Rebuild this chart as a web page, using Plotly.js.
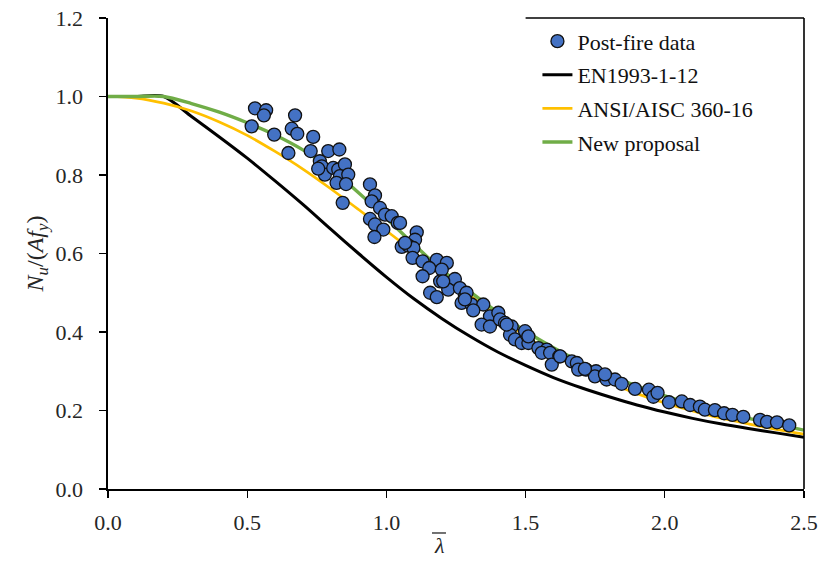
<!DOCTYPE html>
<html>
<head>
<meta charset="utf-8">
<script src="https://cdn.plot.ly/plotly-3.0.1.min.js"></script>
<style>html,body{margin:0;padding:0;background:#fff;}#chart{width:822px;height:562px;}</style>
</head>
<body>
<div id="chart"></div>
<script>
// Post-fire test data
const dataLambda = [0.528,0.568,0.560,0.516,0.597,0.672,0.660,0.680,0.648,0.737,0.728,0.791,0.831,0.761,0.768,0.779,0.809,0.827,0.851,0.833,0.863,0.821,0.855,0.843,0.755,
  0.941,0.959,0.947,0.977,0.941,0.995,1.019,1.041,0.959,0.989,0.957,1.109,1.103,1.055,1.079,1.097,1.094,1.130,1.181,1.217,1.154,1.199,1.130,1.193,1.246,1.222,1.264,1.282,1.157,1.181,1.288,1.270,1.306,1.348,1.312,1.372,1.402,1.342,1.372,1.408,1.426,1.450,1.444,1.462,1.486,1.504,1.510,1.498,1.546,1.576,1.558,1.588,1.621,1.594,1.666,1.684,1.689,1.717,1.753,1.749,1.791,1.821,1.845,1.893,1.943,1.959,1.974,2.015,2.061,2.091,2.126,2.144,2.180,2.213,2.243,2.282,2.342,2.367,2.403,2.447,
  1.049,1.067,1.204,1.282,1.432,1.510,1.624,1.785,1.713];
const dataRatio = [0.970,0.965,0.952,0.924,0.903,0.952,0.918,0.905,0.856,0.897,0.861,0.861,0.865,0.835,0.822,0.801,0.818,0.814,0.827,0.797,0.801,0.780,0.777,0.729,0.816,
  0.776,0.748,0.733,0.716,0.688,0.699,0.695,0.678,0.674,0.661,0.642,0.654,0.635,0.617,0.620,0.614,0.589,0.580,0.584,0.576,0.563,0.559,0.542,0.529,0.535,0.508,0.512,0.491,0.500,0.489,0.500,0.474,0.470,0.470,0.455,0.440,0.449,0.419,0.414,0.432,0.423,0.414,0.393,0.381,0.372,0.393,0.372,0.402,0.359,0.355,0.347,0.347,0.338,0.317,0.325,0.321,0.304,0.304,0.300,0.287,0.279,0.279,0.268,0.255,0.253,0.235,0.245,0.221,0.223,0.214,0.210,0.202,0.201,0.193,0.189,0.184,0.176,0.171,0.170,0.162,
  0.678,0.627,0.529,0.483,0.419,0.389,0.338,0.292,0.306];

// Design curves
const curveLambda = [0,0.1,0.2,0.3,0.4,0.5,0.6,0.7,0.8,0.9,1.0,1.1,1.2,1.3,1.4,1.5,1.6,1.7,1.8,1.9,2.0,2.1,2.2,2.3,2.4,2.5];
const enValues   = [1,1,1,0.949,0.897,0.843,0.785,0.725,0.662,0.600,0.540,0.484,0.434,0.389,0.349,0.315,0.284,0.258,0.235,0.214,0.196,0.180,0.166,0.154,0.143,0.132];
const aiscValues = [1,0.996,0.983,0.963,0.935,0.901,0.860,0.815,0.765,0.712,0.658,0.603,0.547,0.493,0.440,0.390,0.343,0.304,0.271,0.243,0.219,0.199,0.181,0.166,0.152,0.140];
const newValues  = [1,1,1,0.982,0.960,0.933,0.902,0.864,0.815,0.755,0.690,0.622,0.558,0.503,0.450,0.402,0.360,0.323,0.290,0.262,0.237,0.216,0.197,0.180,0.165,0.150];

const xTicks = [0,0.5,1.0,1.5,2.0,2.5];
const xTickText = ['0.0','0.5','1.0','1.5','2.0','2.5'];
const yTicks = [0,0.2,0.4,0.6,0.8,1.0,1.2];
const yTickText = ['0.0','0.2','0.4','0.6','0.8','1.0','1.2'];

const serif = 'Liberation Serif';

const traces = [
  {x: dataLambda, y: dataRatio, type:'scatter', mode:'markers', name:'Post-fire data',
   marker:{color:'#4472C4', size:13, line:{color:'#111', width:1.3}}, legendgroup:'a', legendrank:1},
  {x: curveLambda, y: enValues, type:'scatter', mode:'lines', name:'EN1993-1-12',
   line:{color:'#000000', width:3, shape:'spline', smoothing:0.8}, legendgroup:'b', legendrank:2},
  {x: curveLambda, y: aiscValues, type:'scatter', mode:'lines', name:'ANSI/AISC 360-16',
   line:{color:'#FFC000', width:2.7, shape:'spline', smoothing:0.8}, legendgroup:'c', legendrank:3},
  {x: curveLambda, y: newValues, type:'scatter', mode:'lines', name:'New proposal',
   line:{color:'#70AD47', width:3.4, shape:'spline', smoothing:0.8}, legendgroup:'d', legendrank:4}
];
// draw data on top of the curves
const ordered = [traces[1], traces[2], traces[3], traces[0]];

const layout = {
  width: 822, height: 562,
  margin: {l:108, r:18, t:18, b:73},
  paper_bgcolor:'#ffffff', plot_bgcolor:'#ffffff',
  font: {family: serif, size: 21, color:'#262626'},
  showlegend: true,
  legend: {x:0.617, y:0.995, xanchor:'left', yanchor:'top', bgcolor:'rgba(0,0,0,0)',
           font:{family:serif, size:22, color:'#111'}, traceorder:'grouped', tracegroupgap:2},
  xaxis: {range:[0,2.5], tickvals:xTicks, ticktext:xTickText, showgrid:false, zeroline:false,
          showline:true, linecolor:'#000', linewidth:1.6, ticks:'outside', ticklen:7, tickwidth:1.4, tickcolor:'#000',
          tickfont:{family:serif, size:22, color:'#262626'}, ticklabelstandoff:6, fixedrange:true},
  yaxis: {range:[0,1.2], tickvals:yTicks, ticktext:yTickText, showgrid:false, zeroline:false,
          showline:true, linecolor:'#000', linewidth:1.6, ticks:'outside', ticklen:7, tickwidth:1.4, tickcolor:'#000',
          tickfont:{family:serif, size:22, color:'#262626'}, ticklabelstandoff:12,
          title:{text:'<i>N</i><sub><i>u</i></sub>/(<i>Af</i><sub><i>y</i></sub>)', font:{family:serif, size:24, color:'#262626'}, standoff:5},
          fixedrange:true},
  shapes: [
    {type:'line', xref:'paper', yref:'paper', x0:1, x1:1, y0:0, y1:1, line:{color:'#000', width:1.6}},
    {type:'line', xref:'paper', yref:'paper', x0:0.6, x1:1, y0:1, y1:1, line:{color:'#000', width:1.6}},
    {type:'line', xref:'paper', yref:'paper', x0:0.4655, x1:0.4856, y0:-0.0934, y1:-0.0934, line:{color:'#262626', width:1.3}}
  ],
  annotations: [
    {text:'<i>λ</i>', xref:'paper', yref:'paper', x:0.4756, y:-0.121, xanchor:'center', yanchor:'middle', showarrow:false,
     font:{family:serif, size:22, color:'#262626'}}
  ]
};

Plotly.newPlot('chart', ordered, layout, {displayModeBar:false, staticPlot:true});
</script>
</body>
</html>
